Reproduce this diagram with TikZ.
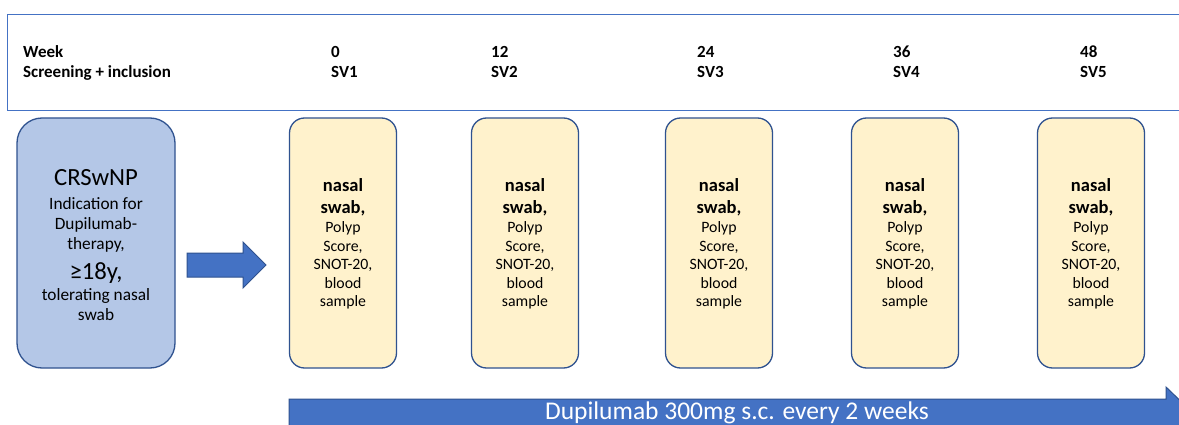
\documentclass[tikz,border=0pt]{standalone}
\usepackage{fontspec}
\setmainfont{Carlito}
\definecolor{hdrline}{HTML}{4472C4}
\definecolor{edgeblue}{HTML}{2F528F}
\definecolor{lightblue}{HTML}{B4C7E7}
\definecolor{arrowblue}{HTML}{4472C4}
\definecolor{paleyellow}{HTML}{FFF2CC}
\tikzset{
  hdrtext/.style={anchor=base west, inner sep=0pt, font=\fontsize{17}{20}\selectfont\bfseries},
  visitbox/.style={draw=edgeblue, line width=1.3pt, fill=paleyellow, rounded corners=15pt, minimum width=107pt, minimum height=250pt, inner sep=0pt},
  visittext/.style={align=center, inner sep=0pt, font=\fontsize{15.8}{18.5}\selectfont},
  fatarrow/.style={draw=edgeblue, line width=1pt, fill=arrowblue}
}
\begin{document}
\begin{tikzpicture}[x=1pt,y=-1pt]
\useasboundingbox (0,0) rectangle (1179,425);
\clip (0,0) rectangle (1179,425);
\fill[white] (0,0) rectangle (1179,425);
% header
\node[draw=hdrline, line width=1.3pt, minimum width=1200pt, minimum height=96pt, anchor=north west, inner sep=0pt] (header) at (7,14) {};
\node[hdrtext] (wk) at (23,57.5) {Week};
\node[hdrtext] (scr) at (23,77.5) {Screening + inclusion};
\node[hdrtext] (w0) at (331,57.5) {0};
\node[hdrtext] (s1) at (331,77.5) {SV1};
\node[hdrtext] (w12) at (491,57.5) {12};
\node[hdrtext] (s2) at (491,77.5) {SV2};
\node[hdrtext] (w24) at (697,57.5) {24};
\node[hdrtext] (s3) at (697,77.5) {SV3};
\node[hdrtext] (w36) at (893,57.5) {36};
\node[hdrtext] (s4) at (893,77.5) {SV4};
\node[hdrtext] (w48) at (1080,57.5) {48};
\node[hdrtext] (s5) at (1080,77.5) {SV5};
% inclusion box
\node[draw=edgeblue, line width=1.3pt, fill=lightblue, rounded corners=25pt, minimum width=158pt, minimum height=250pt, inner sep=0pt] (incl) at (96,243) {};
\node[align=center, inner sep=0pt, font=\fontsize{17.3}{20}\selectfont] (incltext) at (96,245)
 {{\fontsize{24.7}{25}\selectfont CRSwNP}\\[4pt]
  Indication for\\ Dupilumab-\\ therapy,\\[10pt]
  {\fontsize{24.7}{25}\selectfont ≥18y,}\\[1pt]
  tolerating nasal\\ swab};
% small arrow
\path[fatarrow] (187,253) -- (243,253) -- (243,242) -- (266,265) -- (243,288) -- (243,277) -- (187,277) -- cycle;
% visit boxes
\foreach \n/\cx in {1/343,2/525,3/719,4/905,5/1091}{
  \node[visitbox] (v\n) at (\cx,243) {};
  \node[visittext] (vt\n) at (\cx,244)
   {{\fontsize{18.5}{22}\selectfont\bfseries nasal}\\[3pt]
    {\fontsize{18.5}{22}\selectfont\bfseries swab,}\\[1pt]
    Polyp\\ Score,\\ SNOT-20,\\ blood\\ sample};
}
% bottom arrow
\path[fatarrow] (289,399) -- (1166,399) -- (1166,387) -- (1195,415) -- (1166,443) -- (1166,431) -- (289,431) -- cycle;
\node[anchor=base, inner sep=0pt, text=white, font=\fontsize{25.5}{28}\selectfont] (drug) at (737,419) {Dupilumab 300mg s.c. every 2 weeks};
\end{tikzpicture}
\end{document}
